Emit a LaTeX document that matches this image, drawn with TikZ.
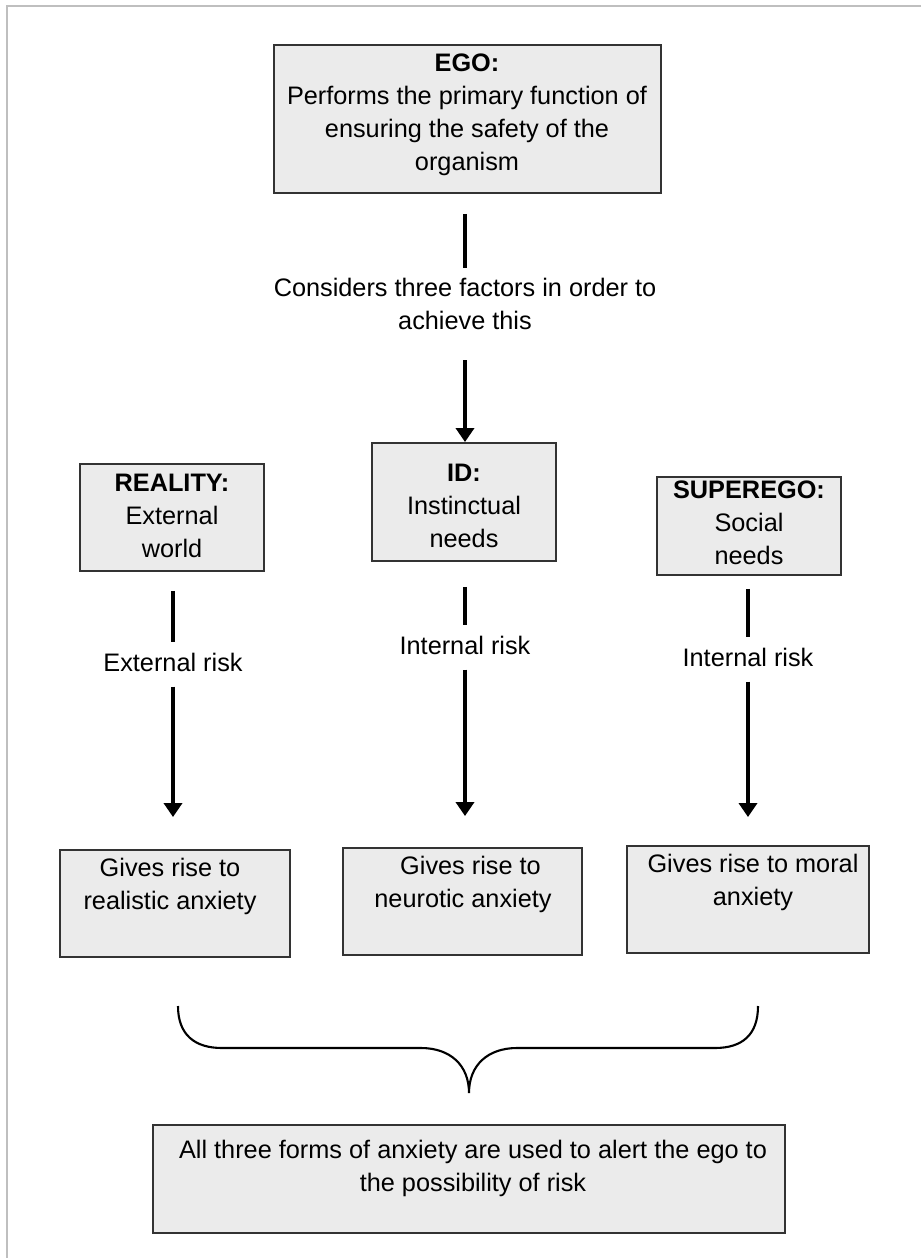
\documentclass[tikz,border=0pt]{standalone}
\usepackage{fontspec}
\setmainfont{Liberation Sans}
\usetikzlibrary{arrows.meta}

\tikzset{
  box/.style={draw=black!80, fill=gray!16, line width=1.1pt, inner sep=0pt},
  txt/.style={align=center, inner sep=0.2cm, font=\fontsize{14.4}{18.8}\selectfont},
  link/.style={line width=2.4pt},
  arr/.style={line width=2.4pt, -{Triangle[length=0.28cm, width=0.36cm]}},
}

\begin{document}
\begin{tikzpicture}[x=0.02cm, y=-0.02cm]
\useasboundingbox (0,0) rectangle (921,1258);
\draw[gray!50, line width=0.04cm] (921,6) -- (7,6) -- (7,1258);

% top box
\node[box, minimum width=7.74cm, minimum height=2.96cm] (ego) at (467.5,119) {};
\node[txt] (egotxt) at (467,115) {\textbf{EGO:}\\Performs the primary function of\\ensuring the safety of the\\organism};
\node[txt] (consider) at (465,304) {Considers three factors in order to\\achieve this};

% the three factors
\node[box, minimum width=3.68cm, minimum height=2.14cm] (reality) at (172,517.5) {};
\node[txt] (realitytxt) at (172,516) {\textbf{REALITY:}\\External\\world};
\node[box, minimum width=3.68cm, minimum height=2.36cm] (id) at (464,502) {};
\node[txt] (idtxt) at (464,506) {\textbf{ID:}\\Instinctual\\needs};
\node[box, minimum width=3.68cm, minimum height=1.96cm] (superego) at (749,526) {};
\node[txt] (superegotxt) at (749,523) {\textbf{SUPEREGO:}\\Social\\needs};

% risks
\node[txt] (extrisk) at (173,662) {External risk};
\node[txt] (intrisk) at (465,645) {Internal risk};
\node[txt] (socrisk) at (748,657) {Internal risk};

% the three anxieties
\node[box, minimum width=4.6cm, minimum height=2.14cm] (realbox) at (175,903.5) {};
\node[txt] (realtxt) at (170,886) {Gives rise to\\realistic anxiety};
\node[box, minimum width=4.78cm, minimum height=2.14cm] (neurbox) at (462.5,901.5) {};
\node[txt] (neurtxt) at (463,884) {\hspace*{0.3cm}Gives rise to\\neurotic anxiety};
\node[box, minimum width=4.84cm, minimum height=2.14cm] (moralbox) at (748,899.5) {};
\node[txt] (moraltxt) at (753,882) {Gives rise to moral\\anxiety};

% bottom box
\node[box, minimum width=12.64cm, minimum height=2.16cm] (alert) at (469,1179) {};
\node[txt] (alerttxt) at (473,1168) {All three forms of anxiety are used to alert the ego to\\the possibility of risk};

% connectors
\draw[link, shorten <=0.4cm] (ego.south -| consider) -- (consider.north);
\draw[arr, shorten <=0.4cm] (consider.south) -- (consider.south |- id.north);

\draw[link, shorten <=0.38cm] (reality.south -| extrisk) -- (extrisk.north);
\draw[arr, shorten <=0.1cm, shorten >=0.64cm] (extrisk.south) -- (extrisk.south |- realbox.north);
\draw[link, shorten <=0.5cm] (id.south -| intrisk) -- (intrisk.north);
\draw[arr, shorten <=0.1cm, shorten >=0.62cm] (intrisk.south) -- (intrisk.south |- neurbox.north);
\draw[link, shorten <=0.26cm] (superego.south -| socrisk) -- (socrisk.north);
\draw[arr, shorten <=0.1cm, shorten >=0.56cm] (socrisk.south) -- (socrisk.south |- moralbox.north);

% brace
\draw[line width=1.2pt] (178,1006) .. controls (178,1035) and (195,1048) .. (222,1048)
  -- (421,1048) .. controls (450,1048) and (469,1065) .. (469,1093)
  .. controls (469,1065) and (488,1048) .. (517,1048)
  -- (715,1048) .. controls (742,1048) and (758,1035) .. (758,1006);
\end{tikzpicture}
\end{document}
